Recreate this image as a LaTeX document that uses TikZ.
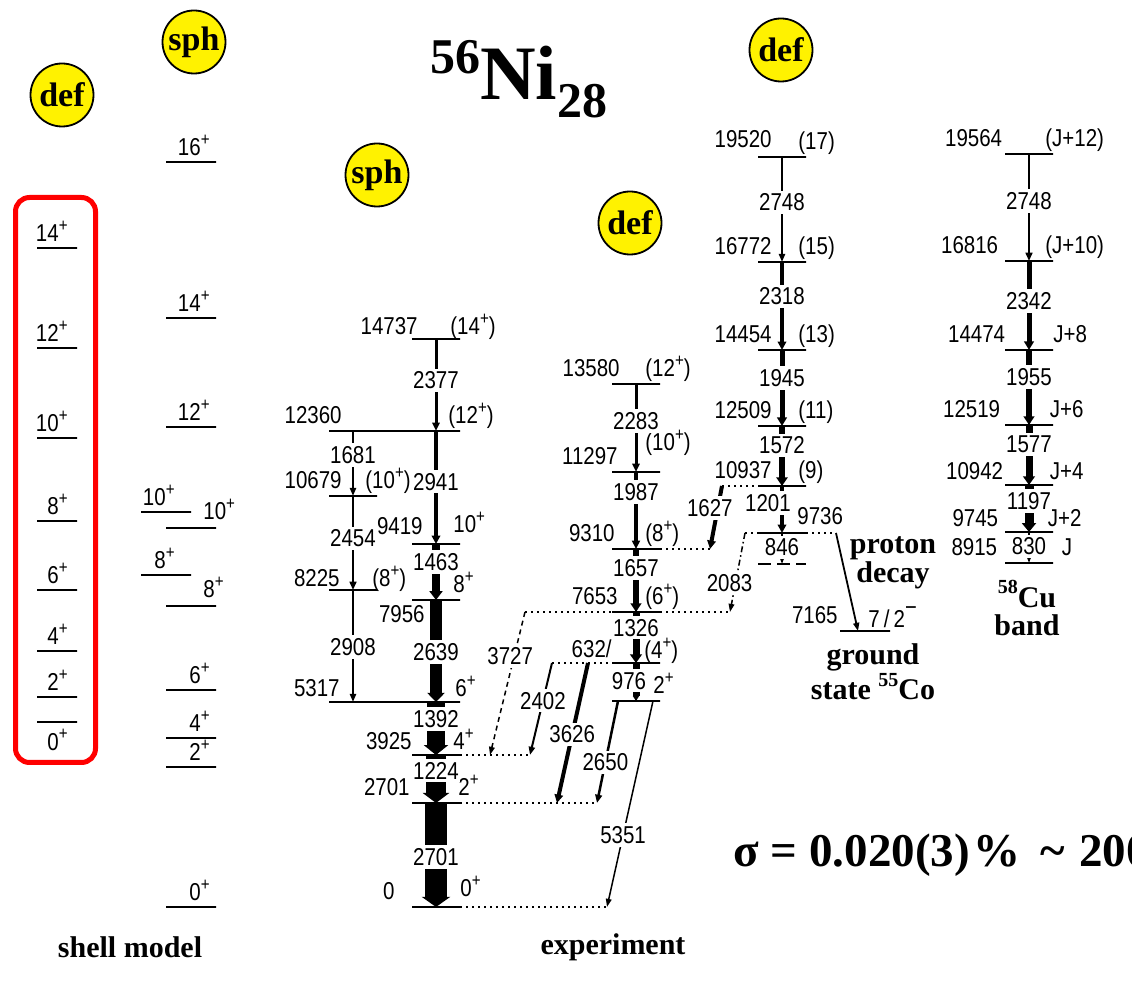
\documentclass[tikz,border=0pt]{standalone}
\usepackage{fontspec}
\setmainfont{Liberation Serif}
\newfontfamily\lvfont[FakeStretch=0.84]{Liberation Sans}
\usetikzlibrary{arrows.meta, shapes.geometric, positioning}
\newcommand{\sPlus}{\raisebox{.42em}{\fontsize{9}{9}\selectfont +}}
\newcommand{\sMinus}{\raisebox{.5em}{\fontsize{12}{12}\selectfont −}}
\newcommand{\iso}[1]{\raisebox{.45em}{\fontsize{10}{10}\selectfont #1}}
\tikzset{
  lev/.style={draw, line width=0.75pt, minimum width=#1, minimum height=0pt, inner sep=0pt, outer sep=0pt},
  lev/.default=24pt,
  lab/.style={font=\lvfont\fontsize{12.2}{13}\selectfont, inner sep=0pt},
  el/.style={lab, anchor=base east, xshift=3pt, yshift=3.5pt},
  sp/.style={lab, anchor=base west, xshift=-4pt, yshift=3.5pt},
  sml/.style={lab, anchor=base east, xshift=#1, yshift=3pt},
  sml/.default=-4.5pt,
  gl/.style={lab, fill=white, inner ysep=1.5pt, inner xsep=0.5pt},
  gam/.style={line width=#1, -{Triangle[width=2pt 1.1, length=4pt 0.1]}},
  ext/.style={line width=0.7pt, dash pattern=on 0.9pt off 2.1pt},
  blob/.style={ellipse, draw, line width=0.9pt, fill=yellow, minimum width=31.5pt, minimum height=31.5pt, inner xsep=-8pt, inner ysep=0pt, font=\fontsize{17}{17}\selectfont\bfseries},
  bl/.style={font=\fontsize{15}{14}\selectfont\bfseries, align=center, inner sep=0pt}
}
\begin{document}
\begin{tikzpicture}[x=0.5pt, y=-0.5pt]
\fill[white] (0,0) rectangle (1132,988);
\useasboundingbox (0,0) rectangle (1132,988);

% title and tags
\node[anchor=base west, inner sep=0pt, font=\bfseries] (title) at (430,100) {\fontsize{25}{25}\selectfont\raisebox{13pt}{56}\fontsize{38.5}{38.5}\selectfont Ni\fontsize{25}{25}\selectfont\raisebox{-9pt}{28}};
\node[blob] (def1) at (62,95) {def};
\node[blob] (sph1) at (194,42) {sph};
\node[blob] (sph2) at (377,175) {sph};
\node[blob] (def2) at (630,223) {def};
\node[blob] (def3) at (781,50) {def};

% shell model
\draw[red, line width=2.5pt, rounded corners=7pt] (15.5,197.5) rectangle (95.5,762.5);
\node[lev=20pt] (a14) at (57,248) {}; \node[sml] (ta14) at (a14.east) {14\sPlus};
\node[lev=20pt] (a12) at (57,348) {}; \node[sml] (ta12) at (a12.east) {12\sPlus};
\node[lev=20pt] (a10) at (57,438) {}; \node[sml] (ta10) at (a10.east) {10\sPlus};
\node[lev=20pt] (a8) at (57,521) {};  \node[sml] (ta8) at (a8.east) {8\sPlus};
\node[lev=20pt] (a6) at (57,590) {};  \node[sml] (ta6) at (a6.east) {6\sPlus};
\node[lev=20pt] (a4) at (57,651) {};  \node[sml] (ta4) at (a4.east) {4\sPlus};
\node[lev=20pt] (a2) at (57,697) {};  \node[sml] (ta2) at (a2.east) {2\sPlus};
\node[lev=20pt] (a0) at (57,722) {};
\node[lab, anchor=north east, xshift=-4.5pt, yshift=-3.5pt] (ta0) at (a0.east) {0\sPlus};

\node[lev=25pt] (b16) at (191,162) {}; \node[sml=-3pt] (tb16) at (b16.east) {16\sPlus};
\node[lev=25pt] (b14) at (191,318) {}; \node[sml=-3pt] (tb14) at (b14.east) {14\sPlus};
\node[lev=25pt] (b12) at (191,427) {}; \node[sml=-3pt] (tb12) at (b12.east) {12\sPlus};
\node[lev=25pt] (c10) at (166,512) {}; \node[sml=-8pt] (tc10) at (c10.east) {10\sPlus};
\node[lev=25pt] (b10) at (191,528) {}; \node[sp, xshift=-2.5pt, yshift=0.5pt] (tb10) at (b10.east) {10\sPlus};
\node[lev=25pt] (c8) at (166,575) {};  \node[sml=-8pt] (tc8) at (c8.east) {8\sPlus};
\node[lev=25pt] (b8) at (191,606) {};  \node[sp, xshift=-2.5pt, yshift=0.5pt] (tb8) at (b8.east) {8\sPlus};
\node[lev=25pt] (b6) at (191,690) {};  \node[sml=-3pt] (tb6) at (b6.east) {6\sPlus};
\node[lev=25pt] (b4) at (191,738) {};  \node[sml=-3pt] (tb4) at (b4.east) {4\sPlus};
\node[lev=25pt] (b2) at (191,767) {};  \node[sml=-3pt] (tb2) at (b2.east) {2\sPlus};
\node[lev=25pt] (b0) at (191,907) {};  \node[sml=-3pt] (tb0) at (b0.east) {0\sPlus};
\node[bl] (smtxt) at (130,947) {shell model};

% experiment, yrast band
\node[lev] (n14737) at (436,339) {};
\node[el, yshift=-1.5pt] (e14737) at (n14737.west) {14737};
\node[sp, xshift=-1pt, yshift=-1.5pt] (s14737) at (n14737.east) {(14\sPlus)};
\node[lev=65.5pt] (n12360) at (394.5,431) {};
\node[el, xshift=3.5pt] (e12360) at (n12360.west) {12360};
\node[sp, xshift=-2pt] (s12360) at (n12360.east) {(12\sPlus)};
\node[lev] (n10679) at (353,496) {};
\node[el, xshift=3.5pt] (e10679) at (n10679.west) {10679};
\node[sp, xshift=-2pt] (s10679) at (n10679.east) {(10\sPlus)};
\node[lev] (n9419) at (436,544) {};
\node[el, xshift=2.5pt, yshift=1pt] (e9419) at (n9419.west) {9419};
\node[sp, xshift=0.5pt, yshift=2pt] (s9419) at (n9419.east) {10\sPlus};
\node[lev] (n8225) at (353,590) {};
\node[el, xshift=2.5pt, yshift=-2pt] (e8225) at (n8225.west) {8225};
\node[sp, xshift=1.5pt, yshift=-2pt] (s8225) at (n8225.east) {(8\sPlus)};
\node[lev] (n7956) at (436,600) {};
\node[lab, anchor=north east, xshift=6.5pt, yshift=-2.5pt] (e7956) at (n7956.west) {7956};
\node[sp, xshift=0.5pt] (s7956) at (n7956.east) {8\sPlus};
\node[lev=65.5pt] (n5317) at (394.5,702) {};
\node[el, xshift=2.5pt, yshift=-1pt] (e5317) at (n5317.west) {5317};
\node[sp, xshift=1.5pt, yshift=-1pt] (s5317) at (n5317.east) {6\sPlus};
\node[lev] (n3925) at (436,755) {};
\node[el, xshift=-3pt, yshift=-1pt] (e3925) at (n3925.west) {3925};
\node[sp, xshift=0.5pt, yshift=-1pt] (s3925) at (n3925.east) {4\sPlus};
\node[lev] (n2701) at (436,803) {};
\node[el, xshift=-4pt] (e2701) at (n2701.west) {2701};
\node[sp, xshift=3pt] (s2701) at (n2701.east) {2\sPlus};
\node[lev] (n0) at (436,907) {};
\node[el, xshift=-11.5pt] (e0) at (n0.west) {0};
\node[sp, xshift=4pt, yshift=1.5pt] (s0) at (n0.east) {0\sPlus};

\draw[gam=1.5pt] (n14737) -- node[gl, pos=.45] (g2377) {2377} (n14737 |- n12360);
\draw[gam=2pt] (n9419 |- n12360) -- node[gl, pos=.45] (g2941) {2941} (n9419);
\draw[gam=4pt] (n9419) -- node[gl, pos=.32] (g1463) {1463} (n7956);
\draw[gam=6pt] (n7956) -- node[gl, pos=.51] (g2639) {2639} (n7956 |- n5317);
\draw[gam=9pt] (n3925 |- n5317) -- node[gl, pos=.32] (g1392) {1392} (n3925);
\draw[gam=10pt] (n3925) -- node[gl, pos=.33] (g1224) {1224} (n2701);
\draw[gam=11pt] (n2701) -- node[gl, pos=.52] (g2701) {2701} (n0);
\draw[gam=1pt] (n10679 |- n12360) -- node[gl, pos=.37] (g1681) {1681} (n10679);
\draw[gam=1.25pt] (n10679) -- node[gl, pos=.45] (g2454) {2454} (n8225);
\draw[gam=1pt] (n8225) -- node[gl, pos=.51] (g2908) {2908} (n8225 |- n5317);

% second band
\node[lev] (n13580) at (636,384) {};
\node[el, xshift=1pt] (e13580) at (n13580.west) {13580};
\node[sp, xshift=-3.5pt] (s13580) at (n13580.east) {(12\sPlus)};
\node[lev] (n11297) at (636,472) {};
\node[el] (e11297) at (n11297.west) {11297};
\node[sp, xshift=-3.5pt, yshift=7pt] (s11297) at (n11297.east) {(10\sPlus)};
\node[lev] (n9310) at (636,549) {};
\node[el, xshift=-1.5pt] (e9310) at (n9310.west) {9310};
\node[sp, xshift=-3.5pt] (s9310) at (n9310.east) {(8\sPlus)};
\node[lev] (n7653) at (636,612) {};
\node[el] (e7653) at (n7653.west) {7653};
\node[sp, xshift=-3.5pt] (s7653) at (n7653.east) {(6\sPlus)};
\node[lev] (n632) at (636,663) {};
\node[el, xshift=-3pt, yshift=-1pt] (e632) at (n632.west) {632/};
\node[sp, xshift=-4pt, yshift=-1.5pt] (s632) at (n632.east) {(4\sPlus)};
\node[lev] (n2b) at (636,701) {};
\node[sp, xshift=0.5pt] (s2b) at (n2b.east) {2\sPlus};

\draw[gam=1.5pt] (n13580) -- node[gl, pos=.42] (g2283) {2283} (n11297);
\draw[gam=1.75pt] (n11297) -- node[gl, pos=.26] (g1987) {1987} (n9310);
\draw[gam=3pt] (n9310) -- node[gl, pos=.3] (g1657) {1657} (n7653);
\draw[gam=3.5pt] (n7653) -- node[gl, pos=.31] (g1326) {1326} (n632);
\draw[line width=3.5pt, -{Triangle[width=3pt, length=2.5pt]}] (n632) -- node[gl, pos=.47, xshift=-3.5pt] (g976) {976} (n2b);

% third band
\node[lev] (n19520) at (782,157) {};
\node[el, xshift=4pt, yshift=1pt] (e19520) at (n19520.west) {19520};
\node[sp] (s19520) at (n19520.east) {(17)};
\node[lev] (n16772) at (782,262) {};
\node[el, xshift=4pt] (e16772) at (n16772.west) {16772};
\node[sp] (s16772) at (n16772.east) {(15)};
\node[lev] (n14454) at (782,350) {};
\node[el, xshift=4pt] (e14454) at (n14454.west) {14454};
\node[sp] (s14454) at (n14454.east) {(13)};
\node[lev] (n12509) at (782,426) {};
\node[el, xshift=4pt] (e12509) at (n12509.west) {12509};
\node[sp] (s12509) at (n12509.east) {(11)};
\node[lev] (n10937) at (782,486) {};
\node[el, xshift=4pt] (e10937) at (n10937.west) {10937};
\node[sp] (s10937) at (n10937.east) {(9)};
\node[lev] (n9736) at (782,533) {};
\node[sp, xshift=-0.5pt, yshift=0.5pt] (s9736) at (n9736.east) {9736};
\node[lev, draw=none] (n846) at (782,564) {};
\draw[line width=0.75pt, dash pattern=on 6.5pt off 3pt] (n846.west) -- (n846.east);
\node[lev=25pt] (n7165) at (865,631) {};
\node[el, xshift=-4pt] (e7165) at (n7165.west) {7165};
\node[sp, xshift=-7pt, yshift=-2pt] (s7165) at (n7165.east) {7\,/\,2\sMinus};

\draw[gam=1pt] (n19520) -- node[gl, pos=.43] (g2748c) {2748} (n16772);
\draw[gam=2pt] (n16772) -- node[gl, pos=.39] (g2318) {2318} (n14454);
\draw[gam=2.5pt] (n14454) -- node[gl, pos=.37] (g1945) {1945} (n12509);
\draw[gam=3.25pt] (n12509) -- node[gl, pos=.32] (g1572) {1572} (n10937);
\draw[gam=2pt] (n10937) -- node[gl, pos=.36, xshift=-7pt] (g1201) {1201} (n9736);
\draw[gam=0.75pt] (n9736) -- node[gl, pos=.47] (g846) {846} (n846);

% 58Cu band
\node[lev] (n19564) at (1029,154) {};
\node[el, xshift=-4.25pt] (e19564) at (n19564.west) {19564};
\node[sp] (s19564) at (n19564.east) {(J+12)};
\node[lev] (n16816) at (1029,261) {};
\node[el, xshift=-6.25pt] (e16816) at (n16816.west) {16816};
\node[sp] (s16816) at (n16816.east) {(J+10)};
\node[lev] (n14474) at (1029,350) {};
\node[el, xshift=-2.75pt] (e14474) at (n14474.west) {14474};
\node[sp, xshift=4pt] (s14474) at (n14474.east) {J+8};
\node[lev] (n12519) at (1029,425) {};
\node[el, xshift=-5.25pt] (e12519) at (n12519.west) {12519};
\node[sp, xshift=2.25pt] (s12519) at (n12519.east) {J+6};
\node[lev] (n10942) at (1029,485) {};
\node[el, xshift=-3.75pt, yshift=-1pt] (e10942) at (n10942.west) {10942};
\node[sp, xshift=2.25pt, yshift=-1pt] (s10942) at (n10942.east) {J+4};
\node[lev] (n9745) at (1029,532) {};
\node[el, xshift=-6.25pt, yshift=-1pt] (e9745) at (n9745.west) {9745};
\node[sp, xshift=1.25pt, yshift=-1pt] (s9745) at (n9745.east) {J+2};
\node[lev] (n8915) at (1029,563) {};
\node[el, xshift=-6.75pt] (e8915) at (n8915.west) {8915};
\node[sp, xshift=8.25pt] (s8915) at (n8915.east) {J};

\draw[gam=1.25pt] (n19564) -- node[gl, pos=.44] (g2748d) {2748} (n16816);
\draw[gam=2.5pt] (n16816) -- node[gl, pos=.45] (g2342) {2342} (n14474);
\draw[gam=3pt] (n14474) -- node[gl, pos=.36] (g1955) {1955} (n12519);
\draw[gam=3.5pt] (n12519) -- node[gl, pos=.32] (g1577) {1577} (n10942);
\draw[gam=4.5pt] (n10942) -- node[gl, pos=.34] (g1197) {1197} (n9745);
\draw[gam=0.75pt] (n9745) -- node[gl, pos=.47] (g830) {830} (n8915);

% links between bands
\coordinate (d0) at (607,907);
\coordinate (d2701) at (597,803);
\coordinate (d3925) at (530,755);
\coordinate (d632) at (552,663);
\coordinate (d7653l) at (525,612);
\coordinate (d7653r) at (730,612);
\coordinate (d9310) at (710,549);
\coordinate (d10937) at (722,486);
\coordinate (d9736l) at (745,533);
\coordinate (d9736r) at (836,533);
\coordinate (t3727) at (490,755);
\coordinate (f3626) at (588,663);
\coordinate (t3626) at (557,803);
\coordinate (f2650) at (618,701);
\coordinate (f5351) at (653,701);
\coordinate (t7165) at (858,631);

\draw[ext] (n0) -- (d0);
\draw[ext] (n2701) -- (d2701);
\draw[ext] (n3925) -- (d3925);
\draw[ext] (d632) -- (n632);
\draw[ext] (d7653l) -- (n7653);
\draw[ext] (n7653) -- (d7653r);
\draw[ext] (n9310) -- (d9310);
\draw[ext] (d10937) -- (n10937);
\draw[ext] (d9736l) -- (n9736);
\draw[ext] (n9736) -- (d9736r);

\draw[gam=0.75pt, dash pattern=on 2.5pt off 2pt] (d7653l) -- node[gl, pos=.31, xshift=-2pt] (g3727) {3727} (t3727);
\draw[gam=1pt] (d632) -- node[gl, pos=.41] (g2402) {2402} (d3925);
\draw[gam=2pt] (f3626) -- node[gl, pos=.51] (g3626) {3626} (t3626);
\draw[gam=1.25pt] (f2650) -- node[gl, pos=.6] (g2650) {2650} (d2701);
\draw[gam=0.75pt] (f5351) -- node[gl, pos=.65] (g5351) {5351} (d0);
\draw[gam=2pt] (d10937) -- node[gl, pos=.35, xshift=-4pt] (g1627) {1627} (d9310);
\draw[gam=0.75pt, dash pattern=on 3pt off 1.5pt on 0.8pt off 1.5pt] (d9736l) -- node[gl, pos=.63, xshift=-3pt] (g2083) {2083} (d7653r);
\draw[gam=0.9pt] (d9736r) -- (t7165);

% captions
\node[bl, font=\fontsize{15}{13.5}\selectfont\bfseries] (protxt) at (893,563) {proton\\decay};
\node[bl] (cotxt) at (873,672) {ground\\state \iso{55}Co};
\node[bl] (cutxt) at (1027,608) {\iso{58}Cu\\band};
\node[bl] (extxt) at (613,947) {experiment};
\node[anchor=base west, inner sep=0pt, font=\fontsize{23.5}{24}\selectfont\bfseries] (sigma) at (733,867) {σ = 0.020(3)\hspace{2pt}\%\hspace{10pt}\textasciitilde\hspace{7pt}200};
\end{tikzpicture}
\end{document}
